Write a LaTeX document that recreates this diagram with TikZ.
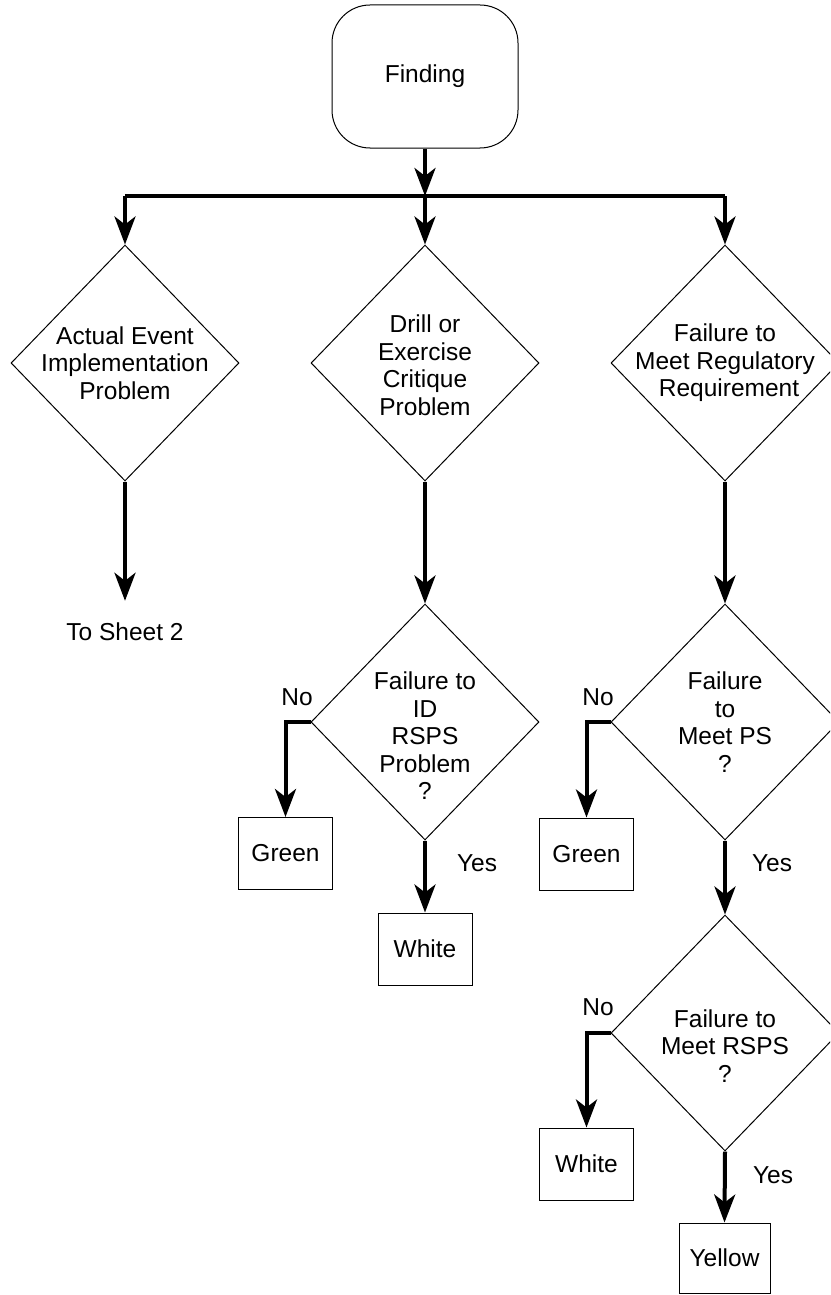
\documentclass[tikz,border=0pt]{standalone}
\usepackage{fontspec}
\setmainfont{Liberation Sans}
\usetikzlibrary{arrows.meta,shapes.geometric}
\begin{document}
\begin{tikzpicture}[x=1pt,y=-1pt,
  every node/.style={font=\fontsize{24.5pt}{27.5pt}\selectfont, align=center},
  dia/.style={diamond, draw, line width=1pt, minimum width=228pt, minimum height=236pt, inner sep=0pt},
  outbox/.style={rectangle, draw, line width=1pt, minimum width=94pt, minimum height=72pt, inner sep=0pt},
  arr/.style={line width=4pt, line join=miter, -{Stealth[length=28pt,width=21pt,inset=8pt]}},
  bus/.style={line width=4pt}]
\useasboundingbox (0,0) rectangle (830,1295);
\clip (0,0) rectangle (830,1295);
% start
\node[draw, line width=1pt, rounded corners=38pt, minimum width=186pt, minimum height=143pt, inner sep=0pt] (find) at (425,76.5) {Finding};
\coordinate (bL) at (125,196);
\coordinate (bM) at (425,196);
\coordinate (bR) at (725,196);
% top diamonds
\node[dia] (d1) at (125,363) {};
\node at (125,363) {Actual Event\\Implementation\\Problem};
\node[dia] (d2) at (425,363) {};
\node at (425,365) {Drill or\\Exercise\\Critique\\Problem};
\node[dia] (d3) at (725,363) {};
\node at (725,363) {Failure to\\Meet Regulatory\\\hspace{8pt}Requirement};
\draw[arr] (find.south) -- (bM);
\draw[bus] (bL) -- (bR);
\draw[arr] (bL) -- (d1.north);
\draw[arr] (bM) -- (d2.north);
\draw[arr] (bR) -- (d3.north);
% left column
\node[inner sep=0pt] (ts) at (125,632) {To Sheet 2};
\draw[arr] (d1.south) -- ([yshift=22pt]ts.north);
% middle column
\node[dia] (q1) at (425,722) {};
\node at (425,736) {Failure to\\ID\\RSPS\\Problem\\?};
\draw[arr] (d2.south) -- (q1.north);
\node[outbox] (g1) at (285.5,853.5) {Green};
\node[outbox] (w1) at (425,949) {White};
\draw[arr] (q1.west) -| (g1.north);
\draw[arr] (q1.south) -- (w1.north);
\node at (297,697) {No};
\node at (477,863) {Yes};
% right column
\node[dia] (q2) at (725,722) {};
\node at (725,722) {Failure\\to\\Meet PS\\?};
\draw[arr] (d3.south) -- (q2.north);
\node[outbox] (g2) at (586.5,854) {Green};
\draw[arr] (q2.west) -| (g2.north);
\node at (598,697) {No};
\node at (772,863) {Yes};
\node[dia] (q3) at (725,1033) {};
\node at (725,1046) {Failure to\\Meet RSPS\\?};
\draw[arr] (q2.south) -- (q3.north);
\node[outbox] (w2) at (586.5,1164) {White};
\node[outbox, minimum width=91pt, minimum height=70pt] (y1) at (724.5,1258) {Yellow};
\draw[arr] (q3.west) -| (w2.north);
\draw[arr] (q3.south) -- (y1.north);
\node at (598,1007) {No};
\node at (773,1175) {Yes};
\end{tikzpicture}
\end{document}
